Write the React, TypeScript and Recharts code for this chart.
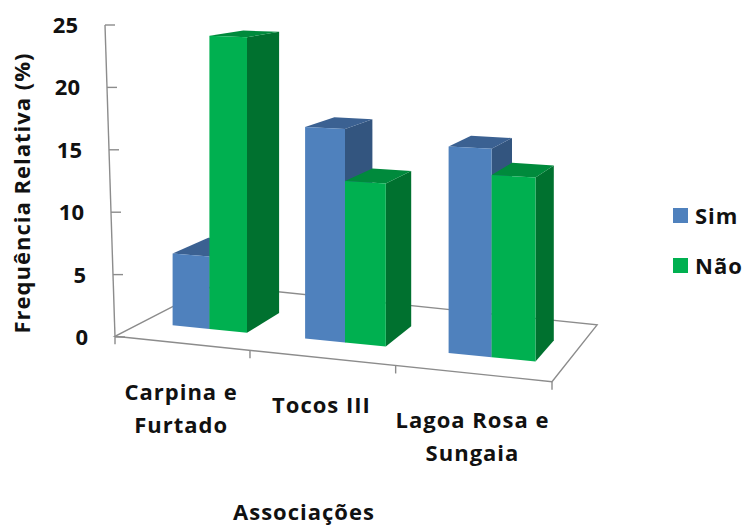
import React from 'react'
import { BarChart, Bar, XAxis, YAxis, Legend } from 'recharts'

const categories = ['Carpina e Furtado', 'Tocos III', 'Lagoa Rosa e Sungaia']
const categoryLines = [['Carpina e', 'Furtado'], ['Tocos III'], ['Lagoa Rosa e', 'Sungaia']]
const seriesNames = ['Sim', 'Não']
const simValues = [5.9, 16.9, 16.0]
const naoValues = [23.9, 12.8, 14.0]
const yTicks = [0, 5, 10, 15, 20, 25]

const data = categories.map((name, i) => ({ name, sim: simValues[i], nao: naoValues[i] }))

const W = 745
const H = 527
const FONT = '"Open Sans", "Liberation Sans", sans-serif'
const FONT_SIZE = 22
const SPACING = 1
const TEXT = '#111'
const LINE = '#8c8c8c'

// plot frame (pixels)
const TOP = 25
const BOTTOM = 337
const AXIS_X = 110
const RIGHT = 557

const SIM = { front: '#4f81bd', top: '#3b6192', side: '#33557f' }
const NAO = { front: '#00b050', top: '#008a3c', side: '#00712f' }

// fake 3D: the front plane is widened to the right and sheared down,
// depth recedes towards a vanishing point up and to the right
const VP: [number, number] = [916, -76]
const BAR_DEPTH = 0.048
const FLOOR_DEPTH = 0.124
const SHEAR_X0 = 290
const shearAt = (y: number) => 0.035 + (0.065 * (y - 35)) / 302
const widen = (x: number) => {
  const u = x - 347
  return x - 2 + 0.008 * u + 0.00028 * u * u
}
const shear = (x: number, y: number): [number, number] => [x, y + shearAt(y) * (x - SHEAR_X0)]
const project = (x: number, y: number): [number, number] => shear(widen(x), y)
const recede = (p: [number, number], k: number): [number, number] => [
  p[0] + k * (VP[0] - p[0]),
  p[1] + k * (VP[1] - p[1])
]
const pts = (list: [number, number][]) => list.map(p => `${p[0].toFixed(1)},${p[1].toFixed(1)}`).join(' ')

// floor front edge runs from x=115 to x=552, cells widening to the right
const FLOOR_L = 115
const FLOOR_R = 552
const FLOOR_Y = BOTTOM + 17.5
const floorX = (t: number) => FLOOR_L + (FLOOR_R - FLOOR_L) * (t + 0.11 * t * (t - 1))
const axisXAt = (y: number) => AXIS_X - 5 + (10 * (y - TOP)) / (BOTTOM - TOP)

const textProps = {
  fontFamily: FONT,
  fontWeight: 700,
  fontSize: FONT_SIZE,
  fill: TEXT,
  letterSpacing: SPACING
}

function makeBox(c: { front: string; top: string; side: string }) {
  return function Box(props: any) {
    const { x, y, width, height } = props
    if (height == null || width == null) return null
    const tl = project(x, y)
    const tr = project(x + width, y)
    const br = project(x + width, y + height)
    const bl = project(x, y + height)
    const tlB = recede(tl, BAR_DEPTH)
    const trB = recede(tr, BAR_DEPTH)
    const brB = recede(br, BAR_DEPTH)
    return (
      <g>
        <polygon points={pts([tr, br, brB, trB])} fill={c.side} />
        <polygon points={pts([tl, tr, trB, tlB])} fill={c.top} />
        <polygon points={pts([tl, tr, br, bl])} fill={c.front} />
      </g>
    )
  }
}

function Floor() {
  const fl = shear(FLOOR_L, FLOOR_Y)
  const fr = shear(FLOOR_R, FLOOR_Y)
  const bl = recede(fl, FLOOR_DEPTH)
  const br = recede(fr, FLOOR_DEPTH)
  const ticks = [0, 1, 2, 3].map(i => shear(floorX(i / 3), FLOOR_Y))
  return (
    <svg width={W} height={H} style={{ position: 'absolute', left: 0, top: 0 }}>
      <polygon points={pts([fl, fr, br, bl])} fill="none" stroke={LINE} strokeWidth={1.4} />
      <line x1={axisXAt(TOP)} y1={TOP} x2={axisXAt(BOTTOM)} y2={BOTTOM} stroke={LINE} strokeWidth={1.4} />
      {ticks.map((p, i) => (
        <line key={i} x1={p[0]} y1={p[1]} x2={p[0]} y2={p[1] + 8} stroke={LINE} strokeWidth={1.4} />
      ))}
    </svg>
  )
}

function YTick(props: any) {
  const { y, payload } = props
  const ax = axisXAt(y)
  return (
    <g>
      <line x1={ax} y1={y} x2={ax + 10} y2={y} stroke={LINE} strokeWidth={1.4} />
      <text x={ax - 27} y={y + 8} textAnchor="end" {...textProps} letterSpacing={0}>
        {payload.value}
      </text>
    </g>
  )
}

function XTick(props: any) {
  const { payload } = props
  const i = categories.indexOf(payload.value)
  const cx = floorX((i + 0.5) / 3)
  const base = 400 + 0.096 * (cx - floorX(0.5 / 3))
  return (
    <text x={cx} y={base} textAnchor="middle" {...textProps}>
      {categoryLines[i].map((line, k) => (
        <tspan key={k} x={cx} y={base + k * 33}>
          {line}
        </tspan>
      ))}
    </text>
  )
}

function LegendBox(props: any) {
  const items = [...(props.payload || [])].sort(
    (a: any, b: any) => seriesNames.indexOf(a.value) - seriesNames.indexOf(b.value)
  )
  return (
    <div style={{ fontFamily: FONT, fontWeight: 700, fontSize: FONT_SIZE, color: TEXT, letterSpacing: SPACING }}>
      {items.map((it: any) => (
        <div key={it.value} style={{ display: 'flex', alignItems: 'center', height: 50 }}>
          <span style={{ display: 'inline-block', width: 15, height: 15, background: it.color, marginRight: 7 }} />
          <span>{it.value}</span>
        </div>
      ))}
    </div>
  )
}

export default function App() {
  return (
    <div style={{ position: 'absolute', left: 0, top: 0, width: W, height: H, background: '#fff' }}>
      <Floor />
      <BarChart
        width={W}
        height={H}
        data={data}
        margin={{ top: TOP, right: W - RIGHT, left: 0, bottom: 40 }}
        barGap={0}
        barSize={40}
      >
        <XAxis
          dataKey="name"
          height={H - BOTTOM - 40}
          padding={{ left: 27, right: 0 }}
          axisLine={false}
          tickLine={false}
          tickSize={0}
          interval={0}
          tick={<XTick />}
          label={{
            content: () => (
              <text x={304} y={520} textAnchor="middle" {...textProps}>
                Associações
              </text>
            )
          }}
        />
        <YAxis
          width={AXIS_X}
          domain={[0, 25]}
          ticks={yTicks}
          interval={0}
          axisLine={false}
          tickLine={false}
          tickSize={0}
          tick={<YTick />}
          label={{
            content: () => (
              <text x={30} y={193} transform="rotate(-90 30 193)" textAnchor="middle" {...textProps}>
                Frequência Relativa (%)
              </text>
            )
          }}
        />
        <Legend
          layout="vertical"
          align="center"
          verticalAlign="middle"
          content={<LegendBox />}
          wrapperStyle={{ left: 673, top: 190, width: 72 }}
        />
        <Bar dataKey="sim" name="Sim" fill={SIM.front} shape={makeBox(SIM)} isAnimationActive={false} />
        <Bar dataKey="nao" name="Não" fill={NAO.front} shape={makeBox(NAO)} isAnimationActive={false} />
      </BarChart>
    </div>
  )
}
